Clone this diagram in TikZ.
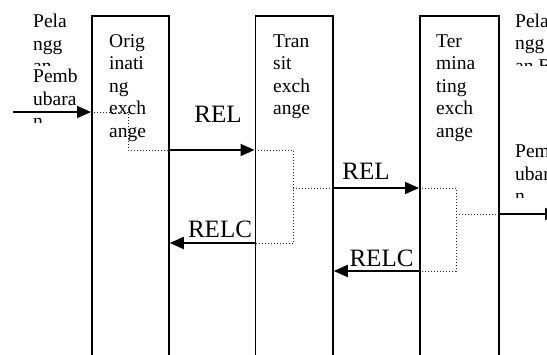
\documentclass[tikz,border=0pt]{standalone}
\usepackage{fontspec}
\setmainfont{Liberation Serif}
\usetikzlibrary{arrows.meta,calc}

\begin{document}
\begin{tikzpicture}[x=1pt, y=-1pt]
  \tikzset{%
    exchange/.style={draw, line width=1.8pt, minimum height=420pt,%
      anchor=north west, inner sep=0pt},%
    boxtext/.style={font={\fontsize{19.5}{22.5}\selectfont}, align=left,%
      anchor=base west, inner sep=0pt},%
    msg/.style={line width=1.8pt, -{Triangle[length=14pt,width=12pt]}},%
    msgtext/.style={font={\fontsize{25}{28}\selectfont}, anchor=base, inner sep=0pt},%
    link/.style={line width=1pt, dash pattern=on 1pt off 2pt, black!85},%
  }%
  \path[use as bounding box, fill=white] (0,0) rectangle (547,354);%
  \clip (0,0) rectangle (547,354);%

  %
  % Niveaux des messages
  %
  \coordinate (sub in) at (0,112);%
  \coordinate (rel a) at (0,150);%
  \coordinate (rel b) at (0,188);%
  \coordinate (sub out) at (0,214);%
  \coordinate (relc a) at (0,243);%
  \coordinate (relc b) at (0,271);%

  %
  % Centraux (texte place par la ligne de base de sa derniere ligne)
  %
  \node[exchange, minimum width=77pt] (orig) at (91,15) {};%
  \node[exchange, minimum width=77.5pt] (trans) at (254.5,15) {};%
  \node[exchange, minimum width=79pt] (term) at (419,15) {};%
  \node[boxtext] (orig text) at (109,137) {Orig\\inati\\ng\\exch\\ange};%
  \node[boxtext] (trans text) at (273,114.5) {Tran\\sit\\exch\\ange};%
  \node[boxtext] (term text) at (436,137) {Ter\\mina\\ting\\exch\\ange};%

  %
  % Abonnes
  %
  \begin{scope}
    \clip (0,0) rectangle (90,65);%
    \node[boxtext] (caller) at (33,72.5) {Pela\\ngg\\an};%
  \end{scope}
  \begin{scope}
    \clip (0,65) rectangle (90,122);%
    \node[boxtext] (caller rel) at (33,127.5) {Pemb\\ubara\\n};%
  \end{scope}
  \begin{scope}
    \clip (500,0) rectangle (547,65);%
    \node[boxtext] (callee) at (515,72) {Pela\\ngg\\an B};%
  \end{scope}
  \begin{scope}
    \clip (500,130) rectangle (547,197);%
    \node[boxtext] (callee rel) at (515,202.5) {Pemb\\ubara\\n};%
  \end{scope}

  %
  % Messages
  %
  \coordinate (in start) at (13,112);%
  \coordinate (out end) at (559,214);%
  \draw[msg] (in start) -- (orig.west |- sub in);%
  \draw[msg] (orig.east |- rel a) -- (trans.west |- rel a);%
  \draw[msg] (trans.east |- rel b) -- (term.west |- rel b);%
  \draw[msg] (trans.west |- relc a) -- (orig.east |- relc a);%
  \draw[msg] (term.west |- relc b) -- (trans.east |- relc b);%
  \draw[msg] (term.east |- sub out) -- (out end);%
  \node[msgtext] (rel a text) at (218,122) {REL};%
  \node[msgtext] (rel b text) at (366,179) {REL};%
  \node[msgtext] (relc a text) at (220,237) {RELC};%
  \node[msgtext] (relc b text) at (381.5,266) {RELC};%

  %
  % Liaisons internes
  %
  \coordinate (orig turn) at (128,0);%
  \coordinate (trans turn) at (293,0);%
  \coordinate (term turn) at (456,0);%
  \draw[link] (orig.west |- sub in) -- (orig turn |- sub in) -- (orig turn |- rel a) -- (orig.east |- rel a);%
  \draw[link] (trans.west |- rel a) -- (trans turn |- rel a) -- (trans turn |- relc a) -- (trans.west |- relc a);%
  \draw[link] (trans turn |- rel b) -- (trans.east |- rel b);%
  \draw[link] (term.west |- rel b) -- (term turn |- rel b) -- (term turn |- relc b) -- (term.west |- relc b);%
  \draw[link] (term turn |- sub out) -- (term.east |- sub out);%
\end{tikzpicture}
\end{document}
